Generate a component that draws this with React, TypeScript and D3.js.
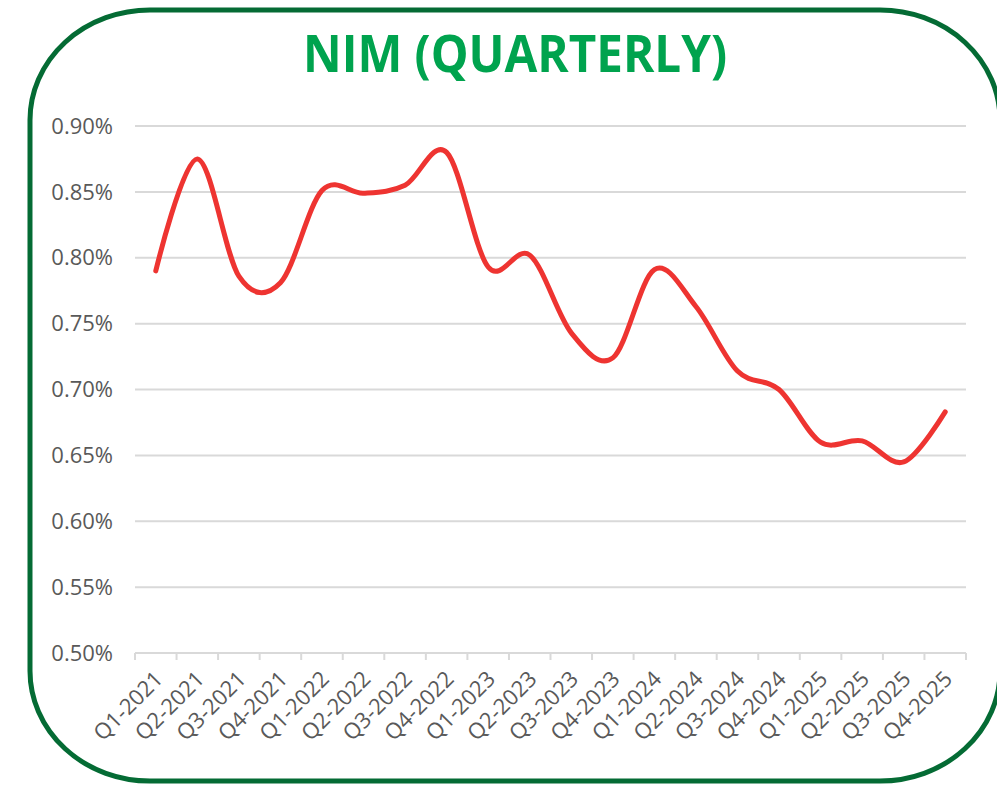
import {useEffect, useRef} from "react"
import * as d3 from "d3"

const quarters = [
  "Q1-2021", "Q2-2021", "Q3-2021", "Q4-2021",
  "Q1-2022", "Q2-2022", "Q3-2022", "Q4-2022",
  "Q1-2023", "Q2-2023", "Q3-2023", "Q4-2023",
  "Q1-2024", "Q2-2024", "Q3-2024", "Q4-2024",
  "Q1-2025", "Q2-2025", "Q3-2025", "Q4-2025",
]
// NIM in percent
const nim = [
  0.790, 0.875, 0.786, 0.781,
  0.851, 0.849, 0.855, 0.880,
  0.793, 0.802, 0.743, 0.724,
  0.791, 0.763, 0.714, 0.700,
  0.660, 0.661, 0.645, 0.683,
]
const yTicks = [0.50, 0.55, 0.60, 0.65, 0.70, 0.75, 0.80, 0.85, 0.90]

const W = 997
const H = 787
const plot = {left: 135, right: 966, top: 126, bottom: 653}
const font = "'Open Sans', 'Noto Sans', sans-serif"

const App = () => {
  const ref = useRef<SVGSVGElement>(null)

  useEffect(() => {
    const svg = d3.select(ref.current)
    svg.selectAll("*").remove()

    svg.append("rect")
      .attr("width", W).attr("height", H).attr("fill", "white")

    // rounded frame
    svg.append("rect")
      .attr("x", 30).attr("y", 10)
      .attr("width", 970).attr("height", 771)
      .attr("rx", 120).attr("ry", 110)
      .attr("fill", "none")
      .attr("stroke", "#046b34")
      .attr("stroke-width", 5)

    svg.append("text")
      .attr("x", 515).attr("y", 72)
      .attr("text-anchor", "middle")
      .attr("font-family", font)
      .attr("font-weight", 700)
      .attr("font-size", 52)
      .attr("textLength", 424)
      .attr("lengthAdjust", "spacingAndGlyphs")
      .attr("fill", "#00a34e")
      .text("NIM (QUARTERLY)")

    const x = d3.scaleBand<string>()
      .domain(quarters)
      .range([plot.left, plot.right])
    const y = d3.scaleLinear()
      .domain([0.5, 0.9])
      .range([plot.bottom, plot.top])

    // gridlines
    svg.append("g")
      .selectAll("line")
      .data(yTicks)
      .join("line")
      .attr("x1", plot.left).attr("x2", plot.right)
      .attr("y1", (d) => y(d)).attr("y2", (d) => y(d))
      .attr("stroke", "#d9d9d9")
      .attr("stroke-width", 2)

    // y labels
    svg.append("g")
      .selectAll("text")
      .data(yTicks)
      .join("text")
      .attr("x", 113)
      .attr("y", (d) => y(d))
      .attr("dy", "0.35em")
      .attr("text-anchor", "end")
      .attr("font-family", font)
      .attr("font-size", 22)
      .attr("fill", "#595959")
      .text((d) => `${d.toFixed(2)}%`)

    // x ticks
    const edges = [...quarters.map((q) => x(q) as number), plot.right]
    svg.append("g")
      .selectAll("line")
      .data(edges)
      .join("line")
      .attr("x1", (d) => d).attr("x2", (d) => d)
      .attr("y1", plot.bottom).attr("y2", plot.bottom + 7)
      .attr("stroke", "#d9d9d9")
      .attr("stroke-width", 2)

    // x labels
    svg.append("g")
      .selectAll("text")
      .data(quarters)
      .join("text")
      .attr("transform", (d) => {
        const cx = (x(d) as number) + x.bandwidth() / 2
        return `translate(${cx + 3},${plot.bottom + 22}) rotate(-45)`
      })
      .attr("text-anchor", "end")
      .attr("dy", "0.35em")
      .attr("font-family", font)
      .attr("font-size", 22)
      .attr("fill", "#595959")
      .text((d) => d)

    const line = d3.line<number>()
      .x((_, i) => (x(quarters[i]) as number) + x.bandwidth() / 2)
      .y((d) => y(d))
      .curve(d3.curveCardinal.tension(0))

    svg.append("path")
      .datum(nim)
      .attr("d", line)
      .attr("fill", "none")
      .attr("stroke", "#ee3431")
      .attr("stroke-width", 5)
      .attr("stroke-linecap", "round")
  }, [])

  return (
    <svg
      ref={ref}
      width={W}
      height={H}
      style={{position: "absolute", left: 0, top: 0}}
    />
  )
}

export default App
